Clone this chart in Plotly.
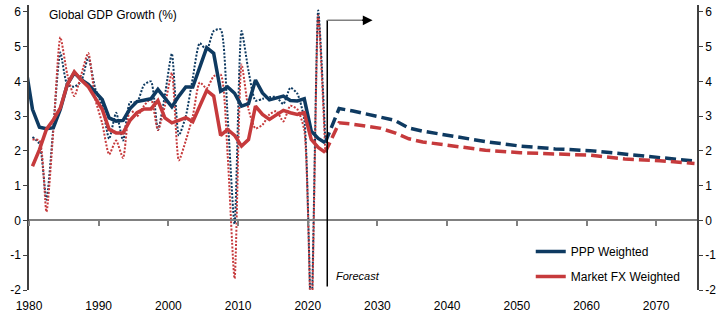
import plotly.graph_objects as go

# ---------------- data ----------------
hist_years = list(range(1980, 2023))
ppp_trend_years = list(range(1979, 2023))

ppp_trend = [4.45, 3.2, 2.68, 2.64, 2.67, 3.2, 3.92, 4.25, 4.05, 3.92,
             3.7, 3.48, 2.95, 2.86, 2.88, 3.22, 3.42, 3.47, 3.5, 3.77,
             3.53, 3.27, 3.58, 3.84, 3.84, 4.39, 4.97, 4.81, 3.72, 3.84,
             3.66, 3.29, 3.36, 4.04, 3.67, 3.47, 3.53, 3.58, 3.45, 3.44,
             3.5, 2.57, 2.36, 2.24]

mfx_trend = [1.56, 2.04, 2.62, 2.9, 3.24, 3.91, 4.28, 4.04, 3.85, 3.5,
             3.2, 2.62, 2.52, 2.52, 2.88, 3.1, 3.21, 3.21, 3.45, 2.95,
             2.81, 2.88, 2.96, 2.84, 3.3, 3.74, 3.58, 2.45, 2.62, 2.45,
             2.14, 2.33, 3.29, 3.05, 2.91, 3.05, 3.17, 3.1, 3.05, 3.1,
             2.33, 2.1, 1.96]

ppp_annual = [2.4, 2.2, 0.6, 2.7, 4.83, 3.9, 3.85, 4.0, 4.7, 3.8,
              3.3, 2.35, 3.1, 2.3, 3.4, 3.4, 3.9, 4.0, 2.6, 3.6,
              4.8, 2.45, 3.0, 4.1, 5.1, 4.9, 5.45, 5.5, 3.0, -0.1,
              5.45, 4.3, 3.45, 3.5, 3.55, 3.55, 3.35, 3.82, 3.65, 2.9,
              -2.8, 6.04, 2.4]

mfx_annual = [2.33, 2.3, 0.25, 2.6, 5.27, 4.2, 3.58, 4.2, 4.82, 3.5,
              2.8, 1.9, 2.3, 1.8, 3.2, 3.0, 3.3, 3.5, 2.6, 3.3,
              4.25, 1.73, 2.3, 3.0, 3.97, 3.8, 4.15, 4.2, 1.9, -1.67,
              4.49, 3.2, 2.65, 2.75, 3.05, 3.15, 2.85, 3.3, 3.2, 2.6,
              -3.1, 5.9, 2.05]

fc_years = [2022, 2023, 2024, 2026, 2028, 2030, 2032, 2034, 2036, 2040,
            2045, 2050, 2055, 2060, 2065, 2070, 2075]
ppp_fc = [2.24, 2.75, 3.22, 3.15, 3.05, 2.97, 2.88, 2.66, 2.57, 2.44,
          2.27, 2.14, 2.06, 2.01, 1.91, 1.79, 1.71]
mfx_fc = [1.96, 2.4, 2.81, 2.77, 2.72, 2.65, 2.52, 2.35, 2.26, 2.15,
          2.02, 1.95, 1.92, 1.88, 1.77, 1.72, 1.64]

x_ticks = list(range(1980, 2080, 10))
y_ticks = list(range(-2, 7))
y_tick_labels = [str(v) for v in y_ticks]  # plain hyphen minus, as in the source

# ---------------- style ----------------
NAVY = "#0E3A61"
RED = "#C63A3C"
FONT = "Liberation Sans, Arial, sans-serif"
Y_MIN, Y_MAX = -2, 6.2
X_MIN, X_MAX = 1980, 2076


def mid(years):
    # annual observations are plotted at mid-year
    return [y + 0.5 for y in years]


fig = go.Figure()

# annual (dotted)
fig.add_trace(go.Scatter(x=mid(hist_years), y=ppp_annual, mode="lines",
                         line=dict(color=NAVY, width=2, dash="2px,1.6px", shape="spline", smoothing=0.6),
                         showlegend=False, hoverinfo="skip", legendgroup="ppp"))
fig.add_trace(go.Scatter(x=mid(hist_years), y=mfx_annual, mode="lines",
                         line=dict(color=RED, width=2, dash="2px,1.6px", shape="spline", smoothing=0.6),
                         showlegend=False, hoverinfo="skip", legendgroup="mfx"))
# trends (solid)
fig.add_trace(go.Scatter(x=mid(ppp_trend_years), y=ppp_trend, mode="lines",
                         line=dict(color=NAVY, width=3.5), name="PPP Weighted",
                         legendgroup="ppp"))
# forecasts (dashed)
fig.add_trace(go.Scatter(x=mid(fc_years), y=ppp_fc, mode="lines",
                         line=dict(color=NAVY, width=3.5, dash="11px,5px"),
                         showlegend=False, legendgroup="ppp"))
# overlay subplot (drawn on top)
fig.add_trace(go.Scatter(x=mid(hist_years), y=mfx_trend, mode="lines",
                         line=dict(color=RED, width=3.5), name="Market FX Weighted",
                         legendgroup="mfx", xaxis="x2", yaxis="y2"))
fig.add_trace(go.Scatter(x=mid(fc_years), y=mfx_fc, mode="lines",
                         line=dict(color=RED, width=3.5, dash="11px,5px"),
                         showlegend=False, legendgroup="mfx", xaxis="x2", yaxis="y2"))

zero_pos = (0 - Y_MIN) / (Y_MAX - Y_MIN)
axis_col = "#404040"

fig.update_layout(
    width=727, height=327,
    margin=dict(l=29, r=29, t=5, b=37),
    paper_bgcolor="white", plot_bgcolor="white",
    font=dict(family=FONT, size=12, color="black"),
    xaxis=dict(range=[X_MIN, X_MAX], tickvals=x_ticks, showgrid=False, zeroline=False,
               showline=False, ticks="outside", ticklen=5, tickcolor="rgba(0,0,0,0)",
               tickfont=dict(size=12, color="black")),
    xaxis2=dict(overlaying="x", matches="x", anchor="free", position=zero_pos,
                tickvals=x_ticks, showgrid=False, zeroline=False, showline=True,
                linecolor="#808080", linewidth=1.5, ticks="outside", ticklen=5,
                tickcolor="#808080", tickwidth=1.5, showticklabels=False),
    yaxis=dict(range=[Y_MIN, Y_MAX], tickvals=y_ticks, ticktext=y_tick_labels,
               showgrid=False, zeroline=False,
               showline=True, linecolor=axis_col, linewidth=1.5, ticks="outside",
               ticklen=4, tickcolor=axis_col, tickfont=dict(size=12, color="black")),
    yaxis2=dict(overlaying="y", matches="y", side="right", anchor="free", position=1,
                tickvals=y_ticks, ticktext=y_tick_labels, showgrid=False, zeroline=False,
                showline=True, linecolor=axis_col, linewidth=1.5, ticks="outside",
                ticklen=4, tickcolor=axis_col, tickfont=dict(size=12, color="black")),
    legend=dict(x=0.750, y=0.186, xanchor="left", yanchor="top",
                bgcolor="rgba(0,0,0,0)", font=dict(size=12, color="black"),
                traceorder="grouped", tracegroupgap=6),
)

# forecast marker
FC_X = 2022.8
ARROW_Y = 5.76
fig.add_shape(type="line", xref="x", yref="y", x0=FC_X, x1=FC_X, y0=-1.9, y1=ARROW_Y,
              line=dict(color="black", width=1.5))
fig.add_shape(type="line", xref="x", yref="y", x0=FC_X, x1=2028.5, y0=ARROW_Y, y1=ARROW_Y,
              line=dict(color="#808080", width=1.5))
fig.add_annotation(x=2029.3, y=ARROW_Y, ax=2027.6, ay=ARROW_Y, xref="x", yref="y",
                   axref="x", ayref="y", showarrow=True, arrowhead=2, arrowsize=1.3,
                   arrowwidth=1.5, arrowcolor="black", text="")
fig.add_annotation(x=2023.7, y=-1.6, xref="x", yref="y", text="<i>Forecast</i>",
                   showarrow=False, xanchor="left", yanchor="middle",
                   font=dict(size=11, color="black"))
fig.add_annotation(x=0.027, y=0.965, xref="paper", yref="paper",
                   text="Global GDP Growth (%)", showarrow=False,
                   xanchor="left", yanchor="middle", font=dict(size=12, color="black"))

fig.write_html("out.html")
